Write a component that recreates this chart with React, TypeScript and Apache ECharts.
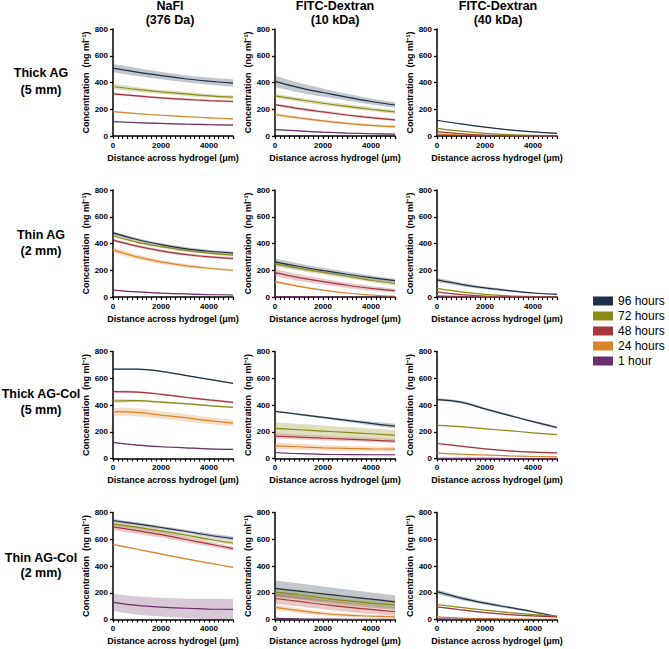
import React, { useEffect, useRef } from 'react';
import * as echarts from 'echarts';

// ---------- DATA ----------
const X_POS = [0, 1000, 2000, 3000, 4000, 5000];
const SERIES_NAMES = ['96 hours', '72 hours', '48 hours', '24 hours', '1 hour'];
const COLUMN_TITLES = [['NaFl', '(376 Da)'], ['FITC-Dextran', '(10 kDa)'], ['FITC-Dextran', '(40 kDa)']];
const ROW_TITLES = [['Thick AG', '(5 mm)'], ['Thin AG', '(2 mm)'], ['Thick AG-Col', '(5 mm)'], ['Thin AG-Col', '(2 mm)']];
const Y_TICKS = [0, 200, 400, 600, 800];
const X_TICK_LABELS = [0, 2000, 4000];
const X_TITLE = 'Distance across hydrogel (μm)';
const Y_TITLE = 'Concentration  (ng ml⁻¹)';

// Row 1: Thick AG (5 mm)
const thickAG_NaFl_mean = [
  [508, 478, 452, 428, 410, 395],
  [370, 348, 330, 315, 300, 290],
  [315, 300, 285, 274, 265, 258],
  [182, 167, 155, 145, 136, 128],
  [108, 100, 94, 89, 85, 82],
];
const thickAG_NaFl_sd = [
  [32, 30, 28, 27, 27, 28],
  [20, 17, 15, 15, 14, 14],
  [10, 8, 8, 8, 8, 8],
  [6, 5, 5, 5, 5, 5],
  [5, 4, 4, 4, 4, 4],
];
const thickAG_10k_mean = [
  [408, 362, 325, 290, 258, 232],
  [300, 272, 245, 222, 200, 180],
  [235, 205, 180, 157, 137, 120],
  [160, 135, 113, 95, 80, 70],
  [48, 38, 29, 22, 17, 14],
];
const thickAG_10k_sd = [
  [42, 36, 30, 25, 22, 20],
  [15, 15, 15, 15, 15, 15],
  [10, 10, 10, 10, 10, 10],
  [10, 10, 10, 10, 10, 10],
  [5, 4, 4, 3, 3, 3],
];
const thickAG_40k_mean = [
  [118, 90, 66, 46, 31, 20],
  [57, 36, 20, 10, 4, 2],
  [32, 16, 6, 2, 1, 0],
  [16, 7, 2, 1, 0, 0],
  [4, 2, 1, 0, 0, 0],
];
const thickAG_40k_sd = [
  [4, 3, 3, 3, 3, 3],
  [4, 3, 2, 2, 1, 1],
  [3, 2, 1, 1, 0, 0],
  [3, 2, 1, 0, 0, 0],
  [1, 1, 0, 0, 0, 0],
];

// Row 2: Thin AG (2 mm)
const thinAG_NaFl_mean = [
  [480, 430, 392, 362, 342, 328],
  [458, 410, 376, 348, 328, 312],
  [425, 380, 345, 318, 300, 288],
  [352, 300, 262, 235, 215, 200],
  [52, 38, 29, 23, 18, 15],
];
const thinAG_NaFl_sd = [
  [12, 12, 12, 12, 12, 12],
  [10, 10, 10, 10, 10, 10],
  [10, 10, 10, 10, 10, 10],
  [22, 18, 15, 12, 10, 10],
  [3, 3, 3, 3, 3, 3],
];
const thinAG_10k_mean = [
  [262, 228, 198, 170, 145, 122],
  [250, 215, 185, 155, 125, 100],
  [182, 145, 115, 88, 65, 48],
  [115, 80, 52, 30, 15, 5],
  [3, 1, 0, 0, 0, 0],
];
const thinAG_10k_sd = [
  [25, 22, 20, 18, 16, 15],
  [20, 18, 16, 15, 15, 15],
  [25, 25, 22, 20, 18, 15],
  [10, 8, 6, 5, 4, 3],
  [1, 1, 0, 0, 0, 0],
];
const thinAG_40k_mean = [
  [128, 95, 68, 47, 30, 20],
  [64, 38, 20, 9, 4, 2],
  [38, 18, 7, 3, 1, 0],
  [10, 4, 1, 0, 0, 0],
  [2, 1, 0, 0, 0, 0],
];
const thinAG_40k_sd = [
  [15, 12, 10, 8, 6, 5],
  [4, 3, 2, 1, 1, 1],
  [3, 2, 1, 1, 0, 0],
  [2, 1, 0, 0, 0, 0],
  [0, 0, 0, 0, 0, 0],
];

// Row 3: Thick AG-Col (5 mm)
const thickCol_NaFl_mean = [
  [668, 668, 652, 622, 592, 562],
  [430, 432, 422, 410, 395, 382],
  [500, 497, 480, 458, 438, 420],
  [350, 345, 325, 305, 283, 265],
  [120, 100, 88, 80, 72, 68],
];
const thickCol_NaFl_sd = [
  [4, 4, 4, 4, 4, 4],
  [15, 10, 8, 6, 6, 6],
  [8, 8, 8, 8, 8, 8],
  [30, 30, 28, 28, 25, 25],
  [4, 4, 4, 4, 4, 4],
];
const thickCol_10k_mean = [
  [352, 330, 308, 285, 262, 242],
  [225, 215, 205, 195, 185, 175],
  [168, 160, 152, 145, 137, 130],
  [95, 88, 80, 75, 72, 70],
  [45, 36, 31, 29, 28, 28],
];
const thickCol_10k_sd = [
  [5, 6, 8, 10, 14, 18],
  [45, 45, 42, 40, 40, 38],
  [20, 18, 18, 16, 16, 15],
  [25, 22, 20, 20, 18, 18],
  [3, 3, 3, 3, 3, 3],
];
const thickCol_40k_mean = [
  [440, 421, 371, 323, 276, 232],
  [248, 238, 222, 208, 192, 178],
  [112, 92, 72, 57, 47, 42],
  [40, 32, 26, 20, 15, 12],
  [2, 1, 1, 0, 0, 0],
];
const thickCol_40k_sd = [
  [10, 10, 8, 8, 8, 10],
  [4, 4, 4, 4, 4, 4],
  [5, 5, 5, 5, 5, 5],
  [3, 3, 3, 3, 3, 3],
  [0, 0, 0, 0, 0, 0],
];

// Row 4: Thin AG-Col (2 mm)
const thinCol_NaFl_mean = [
  [740, 715, 688, 660, 630, 605],
  [715, 690, 662, 632, 600, 572],
  [692, 665, 635, 600, 565, 530],
  [562, 525, 490, 455, 422, 390],
  [128, 105, 92, 84, 78, 75],
];
const thinCol_NaFl_sd = [
  [12, 12, 12, 12, 14, 15],
  [15, 15, 15, 15, 15, 15],
  [25, 25, 22, 20, 18, 15],
  [5, 5, 5, 5, 5, 5],
  [65, 68, 70, 72, 75, 78],
];
const thinCol_10k_mean = [
  [232, 212, 192, 172, 152, 132],
  [205, 185, 160, 140, 122, 108],
  [158, 135, 112, 92, 75, 58],
  [90, 66, 45, 32, 25, 20],
  [8, 5, 3, 2, 1, 1],
];
const thinCol_10k_sd = [
  [60, 58, 55, 52, 50, 50],
  [35, 35, 35, 35, 35, 35],
  [40, 38, 36, 35, 33, 30],
  [20, 18, 15, 12, 10, 8],
  [5, 4, 3, 2, 1, 1],
];
const thinCol_40k_mean = [
  [208, 160, 122, 90, 58, 22],
  [112, 90, 70, 52, 37, 25],
  [95, 72, 52, 37, 27, 20],
  [20, 11, 6, 3, 2, 2],
  [5, 2, 1, 0, 0, 0],
];
const thinCol_40k_sd = [
  [18, 15, 12, 10, 8, 6],
  [4, 4, 4, 4, 4, 4],
  [4, 4, 4, 4, 4, 4],
  [3, 3, 3, 3, 3, 3],
  [1, 1, 0, 0, 0, 0],
];

const PANELS = [
  [thickAG_NaFl_mean, thickAG_NaFl_sd], [thickAG_10k_mean, thickAG_10k_sd], [thickAG_40k_mean, thickAG_40k_sd],
  [thinAG_NaFl_mean, thinAG_NaFl_sd], [thinAG_10k_mean, thinAG_10k_sd], [thinAG_40k_mean, thinAG_40k_sd],
  [thickCol_NaFl_mean, thickCol_NaFl_sd], [thickCol_10k_mean, thickCol_10k_sd], [thickCol_40k_mean, thickCol_40k_sd],
  [thinCol_NaFl_mean, thinCol_NaFl_sd], [thinCol_10k_mean, thinCol_10k_sd], [thinCol_40k_mean, thinCol_40k_sd],
];

// ---------- STYLE / LAYOUT ----------
const COLORS = ['#1d3047', '#8a8a16', '#a6363a', '#d9842a', '#6c2f6a'];
const FONT = '"Liberation Sans", Arial, Helvetica, sans-serif';
const COL_LEFT = [113, 275, 437];
const ROW_TOP = [29, 190, 351.5, 512.5];
const GRID_W = 120;
const GRID_H = 107;
const COL_CENTER = [170, 335, 498];
const ROW_LABEL_Y = [[73, 90], [235, 251], [394, 410], [558, 573]];
const SMOOTH = 0.35;

// same curve construction as ECharts' smoothed line (pixel space)
function smoothSegments(pts: number[][], smooth: number): string {
  let d = '';
  let cp0x = pts[0][0];
  let cp0y = pts[0][1];
  for (let i = 1; i < pts.length; i++) {
    const [x, y] = pts[i];
    const [px, py] = pts[i - 1];
    let cp1x = x, cp1y = y, ncx = x, ncy = y;
    if (i < pts.length - 1) {
      const [nx, ny] = pts[i + 1];
      const vx = nx - px, vy = ny - py;
      const l0 = Math.hypot(x - px, y - py);
      const l1 = Math.hypot(nx - x, ny - y);
      const ratio = l1 / (l0 + l1 || 1);
      cp1x = x - vx * smooth * (1 - ratio);
      cp1y = y - vy * smooth * (1 - ratio);
      ncx = x + vx * smooth * ratio;
      ncy = y + vy * smooth * ratio;
      ncx = Math.min(ncx, Math.max(nx, x)); ncy = Math.min(ncy, Math.max(ny, y));
      ncx = Math.max(ncx, Math.min(nx, x)); ncy = Math.max(ncy, Math.min(ny, y));
      const ox = ncx - x, oy = ncy - y;
      cp1x = x - ox * l0 / (l1 || 1); cp1y = y - oy * l0 / (l1 || 1);
      cp1x = Math.min(cp1x, Math.max(px, x)); cp1y = Math.min(cp1y, Math.max(py, y));
      cp1x = Math.max(cp1x, Math.min(px, x)); cp1y = Math.max(cp1y, Math.min(py, y));
      const ix = x - cp1x, iy = y - cp1y;
      ncx = x + ix * l1 / (l0 || 1); ncy = y + iy * l1 / (l0 || 1);
    }
    d += ` C${cp0x.toFixed(2)},${cp0y.toFixed(2)} ${cp1x.toFixed(2)},${cp1y.toFixed(2)} ${x.toFixed(2)},${y.toFixed(2)}`;
    cp0x = ncx; cp0y = ncy;
  }
  return d;
}

function buildOption() {
  const grid: any[] = [];
  const xAxis: any[] = [];
  const yAxis: any[] = [];
  const series: any[] = [];

  PANELS.forEach(([means, sds], p) => {
    const r = Math.floor(p / 3);
    const c = p % 3;
    grid.push({ left: COL_LEFT[c], top: ROW_TOP[r], width: GRID_W, height: GRID_H, outerBoundsMode: 'none', containLabel: false });
    xAxis.push({
      type: 'value', gridIndex: p, min: 0, max: 5000, interval: 1000,
      axisLine: { show: true, lineStyle: { color: '#000', width: 1.5 } },
      axisTick: { show: true, length: 3, lineStyle: { color: '#000', width: 1.3 } },
      minorTick: { show: true, splitNumber: 5, length: 3, lineStyle: { color: '#000', width: 1.1 } },
      splitLine: { show: false },
      axisLabel: {
        formatter: (v: number) => (X_TICK_LABELS.includes(v) ? String(v) : ''),
        fontSize: 8, fontWeight: 'bold', color: '#000', margin: 5, fontFamily: FONT,
      },
      name: X_TITLE, nameLocation: 'middle', nameGap: 17,
      nameTextStyle: { fontSize: 9, fontWeight: 'bold', color: '#000', fontFamily: FONT },
    });
    yAxis.push({
      type: 'value', gridIndex: p, min: Y_TICKS[0], max: Y_TICKS[Y_TICKS.length - 1], interval: Y_TICKS[1] - Y_TICKS[0],
      axisLine: { show: true, lineStyle: { color: '#000', width: 1.5 } },
      axisTick: { show: true, length: 3, lineStyle: { color: '#000', width: 1.3 } },
      splitLine: { show: false },
      axisLabel: { fontSize: 8, fontWeight: 'bold', color: '#000', margin: 5, fontFamily: FONT },
      name: Y_TITLE, nameLocation: 'middle', nameGap: 20,
      nameTextStyle: { fontSize: 9, fontWeight: 'bold', color: '#000', fontFamily: FONT },
    });

    // shaded bands (mean ± spread), one closed smooth path per series
    means.forEach((m: number[], s: number) => {
      const sd = sds[s];
      const bandData = X_POS.map((x, i) => [x, Math.max(0, m[i] - sd[i]), m[i] + sd[i]]);
      series.push({
        type: 'custom', xAxisIndex: p, yAxisIndex: p, silent: true, z: 1,
        data: bandData,
        encode: { x: 0, y: [1, 2] },
        renderItem: (params: any, api: any) => {
          if (params.dataIndex !== 0) return null;
          const up = bandData.map((d) => api.coord([d[0], d[2]]));
          const lo = bandData.map((d) => api.coord([d[0], d[1]])).reverse();
          const pathData =
            `M${up[0][0].toFixed(2)},${up[0][1].toFixed(2)}` + smoothSegments(up, SMOOTH) +
            ` L${lo[0][0].toFixed(2)},${lo[0][1].toFixed(2)}` + smoothSegments(lo, SMOOTH) + ' Z';
          return {
            type: 'path',
            shape: { pathData },
            style: { fill: COLORS[s], opacity: 0.27 },
          };
        },
      });
    });
    means.forEach((m: number[], s: number) => {
      series.push({
        name: SERIES_NAMES[s], type: 'line', xAxisIndex: p, yAxisIndex: p, z: 3,
        data: X_POS.map((x, i) => [x, m[i]]),
        symbol: 'none', smooth: SMOOTH,
        lineStyle: { color: COLORS[s], width: 1.2 },
        itemStyle: { color: COLORS[s] },
      });
    });
  });

  const graphic: any[] = [];
  COLUMN_TITLES.forEach((lines, c) => {
    lines.forEach((t, k) => {
      graphic.push({
        type: 'text', x: COL_CENTER[c], y: k === 0 ? 6 : 20,
        style: { text: t, fill: '#000', fontSize: 12.5, fontWeight: 'bold', fontFamily: FONT, align: 'center', verticalAlign: 'middle' },
      });
    });
  });
  ROW_TITLES.forEach((lines, r) => {
    lines.forEach((t, k) => {
      graphic.push({
        type: 'text', x: 41, y: ROW_LABEL_Y[r][k],
        style: { text: t, fill: '#000', fontSize: 12.5, fontWeight: 'bold', fontFamily: FONT, align: 'center', verticalAlign: 'middle' },
      });
    });
  });

  return {
    animation: false,
    backgroundColor: '#fff',
    textStyle: { fontFamily: FONT },
    grid, xAxis, yAxis, series, graphic,
    legend: {
      data: SERIES_NAMES,
      orient: 'vertical', left: 588, top: 290,
      icon: 'rect', itemWidth: 20, itemHeight: 9, itemGap: 3,
      selectedMode: false,
      textStyle: { fontSize: 12, color: '#000', fontFamily: FONT },
    },
  };
}

export default function App() {
  const ref = useRef<HTMLDivElement>(null);
  useEffect(() => {
    if (!ref.current) return;
    const chart = echarts.init(ref.current, null, { renderer: 'svg' });
    chart.setOption(buildOption() as any);
    return () => chart.dispose();
  }, []);
  return <div ref={ref} style={{ position: 'absolute', left: 0, top: 0, width: 669, height: 649, background: '#fff' }} />;
}
